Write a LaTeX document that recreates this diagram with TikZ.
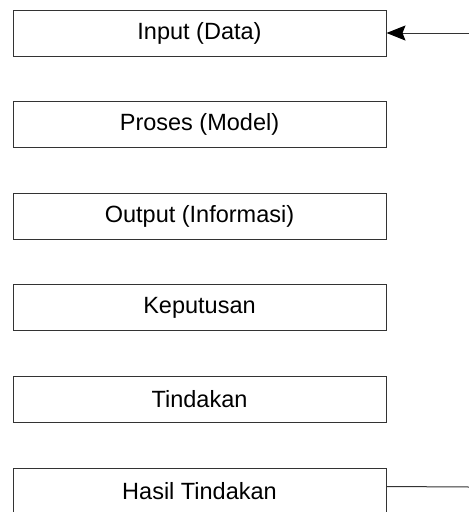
\documentclass[tikz,border=0pt]{standalone}
\usepackage{fontspec}
\setmainfont{Liberation Sans}
\usetikzlibrary{arrows.meta}
\begin{document}
\begin{tikzpicture}[x=1pt,y=-1pt,
  stagebox/.style={draw=black!80, line width=1pt, minimum width=373pt, minimum height=46pt,
    inner sep=0pt, font=\fontsize{23.5}{28}\selectfont},
  link/.style={draw=black!80, line width=1pt}]
  \useasboundingbox (0,0) rectangle (469,512);
  \clip (0,0) rectangle (469,512);
  \node[stagebox] (input)  at (199.5,33)    {Input (Data)};
  \node[stagebox] (proses) at (199.5,124.6) {Proses (Model)};
  \node[stagebox] (output) at (199.5,216.2) {Output (Informasi)};
  \node[stagebox] (keputusan) at (199.5,307.8) {Keputusan};
  \node[stagebox] (tindakan)  at (199.5,399.4) {Tindakan};
  \node[stagebox] (hasil)     at (199.5,491)   {Hasil Tindakan};
  % feedback ends running off the right edge
  \coordinate (inEnd) at (469,33);
  \coordinate (hasilOut) at ([yshift=-19pt]hasil.north east);
  \coordinate (hasilEnd) at (469,487);
  \draw[link, -{Stealth[length=19pt,width=15pt,inset=3pt,black]}] (inEnd) -- (input.east);
  \draw[link] (hasilOut) -- (hasilEnd);
\end{tikzpicture}
\end{document}
